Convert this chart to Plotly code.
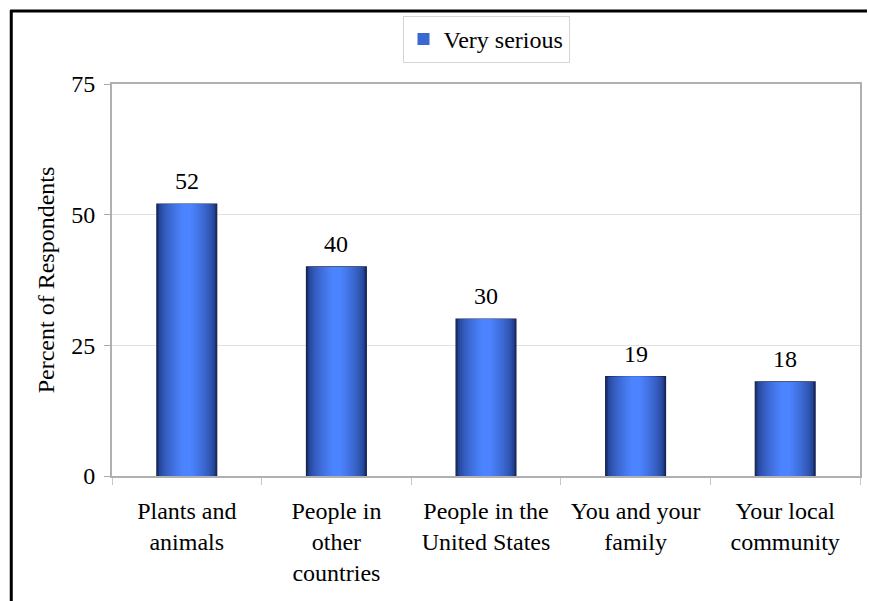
import plotly.graph_objects as go

categories = ["Plants and<br>animals", "People in<br>other<br>countries", "People in the<br>United States",
              "You and your<br>family", "Your local<br>community"]
values = [52, 40, 30, 19, 18]
series_name = "Very serious"
y_ticks = [0, 25, 50, 75]

FONT = "Liberation Serif"
FS = 24
W, H = 869, 601
L, R, T, B = 112, 7, 84, 125
pw, ph = W - L - R, H - T - B

def lerp(c1, c2, t):
    return "#%02x%02x%02x" % tuple(int(round(a + (b - a) * t)) for a, b in zip(c1, c2))

dark = (0x1a, 0x32, 0x78)
light = (0x4c, 0x84, 0xff)

fig = go.Figure()
base_w = 0.4
n_layers = 14
legend_layer = 6
for i in range(n_layers):
    t = i / (n_layers - 1)
    f = 1 - 0.85 * t
    col = lerp(dark, light, t ** 0.55)
    fig.add_trace(go.Bar(
        x=categories, y=values, width=[base_w * f] * len(values),
        marker=dict(color=col, line=dict(color="#18224a" if i == 0 else col, width=1.2 if i == 0 else 0)),
        name=series_name, showlegend=(i == legend_layer), hoverinfo="skip",
    ))

for c, v in zip(categories, values):
    fig.add_annotation(x=c, y=v, text=str(v), showarrow=False, yanchor="bottom", yshift=8,
                       font=dict(family=FONT, size=FS, color="black"))

def px(x):
    return (x - L) / pw
def py(y):
    return (H - B - y) / ph
fig.add_shape(type="line", xref="paper", yref="paper", x0=px(10), x1=px(869), y0=py(11), y1=py(11),
              line=dict(color="black", width=3))
fig.add_shape(type="line", xref="paper", yref="paper", x0=px(11), x1=px(11), y0=py(10), y1=py(601),
              line=dict(color="black", width=3))

fig.update_layout(
    width=W, height=H, margin=dict(l=L, r=R, t=T, b=B),
    barmode="overlay", bargap=0.6,
    paper_bgcolor="white", plot_bgcolor="white",
    font=dict(family=FONT, size=FS, color="black"),
    legend=dict(x=0.5, xanchor="center", y=py(16), yanchor="top", orientation="h",
                bordercolor="#d4d4d4", borderwidth=1, bgcolor="white",
                font=dict(family=FONT, size=FS), itemwidth=30),
    showlegend=True,
)
fig.update_yaxes(range=[0, 75], tickvals=y_ticks, ticks="outside", ticklen=6, tickcolor="#aaaaaa",
                 showgrid=True, gridcolor="#e2e2e2", gridwidth=1,
                 showline=True, linecolor="#b0b0b0", linewidth=2, mirror=True,
                 zeroline=False, tickfont=dict(size=FS), ticklabelstandoff=4,
                 title=dict(text="Percent of Respondents", font=dict(size=FS), standoff=10))
fig.update_xaxes(ticks="outside", tickson="boundaries", ticklen=7, tickcolor="#c8c8c8",
                 showline=True, linecolor="#b0b0b0", linewidth=2, mirror=True,
                 tickfont=dict(size=FS), ticklabelstandoff=12)

fig.write_html("out.html")
